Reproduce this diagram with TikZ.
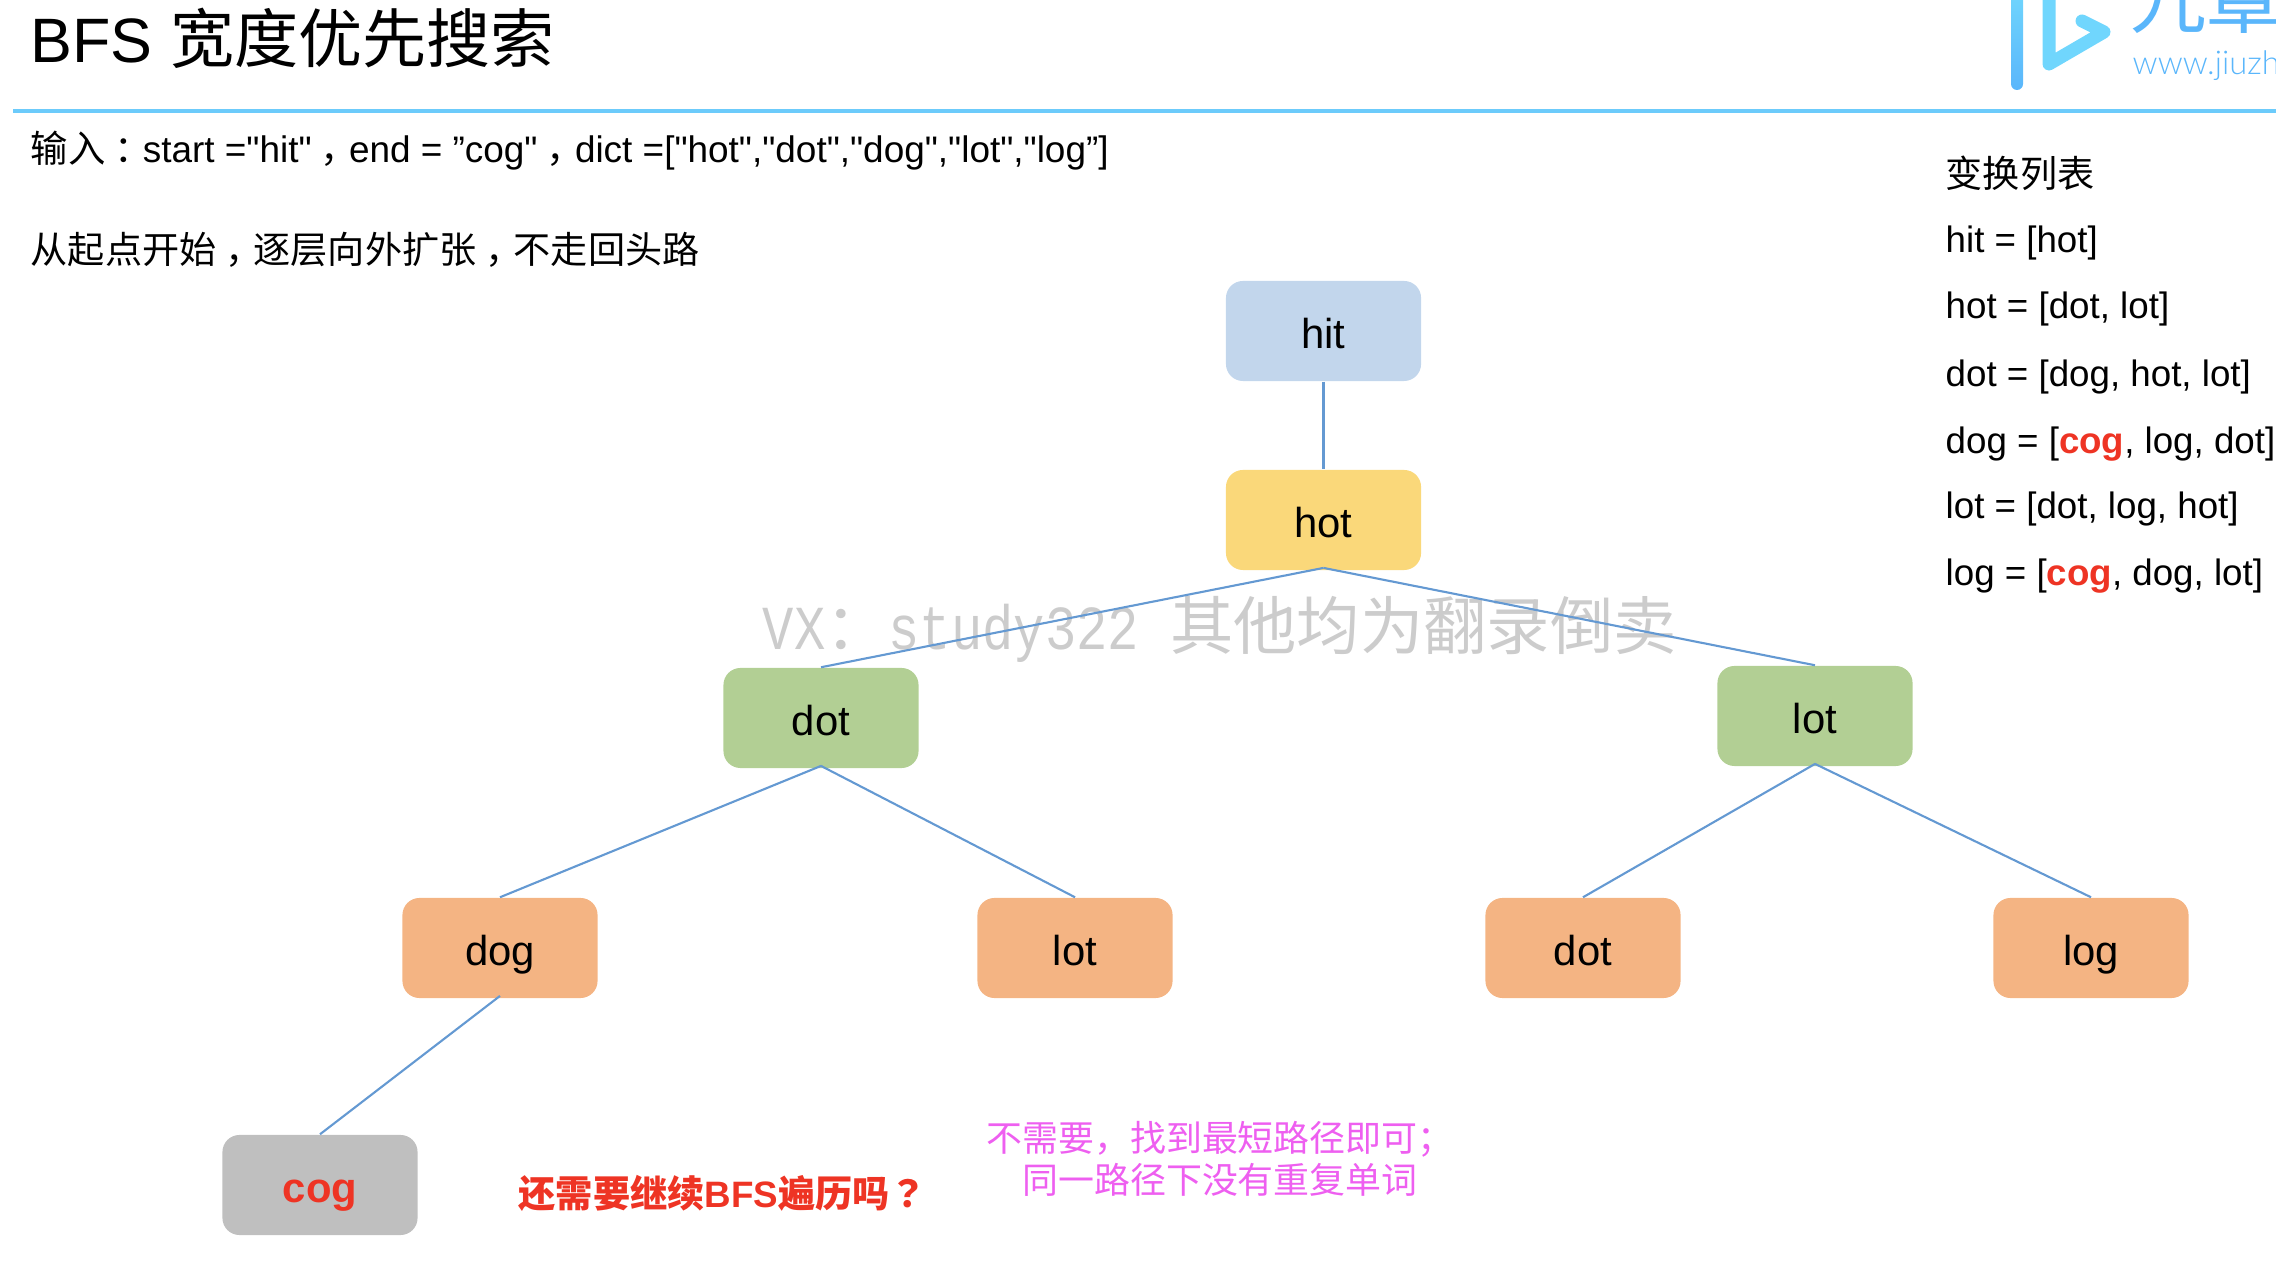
\documentclass[tikz,border=0pt]{standalone}
\usepackage{fontspec}
\setmainfont[Ligatures=TeXOff]{Liberation Sans}
\newfontfamily\cjk[Scale=1.012]{Noto Sans CJK SC}
\newfontfamily\cjkpunct[Scale=1.012]{Noto Sans CJK TC}
\newfontfamily\wmfont[FakeStretch=0.833]{Liberation Mono}
\newfontfamily\urlfont{Lato Light}
\usepackage{xcolor}
\usetikzlibrary{positioning}
\definecolor{hitblue}{HTML}{C2D6EC}
\definecolor{hotyellow}{HTML}{FAD87A}
\definecolor{midgreen}{HTML}{B2CF94}
\definecolor{leaforange}{HTML}{F4B483}
\definecolor{coggray}{HTML}{BFBFBF}
\definecolor{edgeblue}{HTML}{6499D2}
\definecolor{rulecyan}{HTML}{6CCBFB}
\definecolor{logodark}{HTML}{5AB6FB}
\definecolor{logolight}{HTML}{70D6FD}
\definecolor{alertred}{HTML}{EE3424}
\definecolor{notepink}{HTML}{EE5FF0}
\definecolor{stampgray}{HTML}{CCCCCC}
\newcommand{\zh}[1]{{\cjk #1}}
\newcommand{\pu}[1]{\makebox[1.012em][l]{\hspace{.24em}\zh{#1}}}
\newcommand{\hl}[1]{\textcolor{alertred}{\textbf{#1}}}
\tikzset{
  wordbox/.style={rounded corners=1.7mm,minimum width=1.95cm,minimum height=1cm,inner sep=0pt,
                  text height=12pt,text depth=1.8pt,font=\fontsize{11.9}{14}\selectfont},
  hitbox/.style={wordbox,fill=hitblue},
  hotbox/.style={wordbox,fill=hotyellow},
  midbox/.style={wordbox,fill=midgreen},
  leafbox/.style={wordbox,fill=leaforange},
  cogbox/.style={wordbox,fill=coggray,text=alertred,font=\fontsize{11.9}{14}\selectfont\bfseries},
  edge/.style={edgeblue,line width=0.6pt},
  body/.style={anchor=base west,inner sep=0pt,font=\fontsize{10.44}{12}\selectfont},
}
\begin{document}
\begin{tikzpicture}[x=0.01cm,y=-0.01cm]
  \useasboundingbox (0,0) rectangle (2276,1274);
  \node[anchor=base west,inner sep=0pt,font=\fontsize{17.84}{20}\selectfont] (title) at (30,63) {BFS \zh{\fontsize{18}{20}\selectfont 宽度优先搜索}};
  \fill[rulecyan] (13,109) rectangle (2276,113);
  \begin{scope}
    \clip (0,0) rectangle (2276,1274);
    \shade[top color=logolight,bottom color=logodark,rounded corners=.6mm] (2011,-10) rectangle (2023,90);
    \draw[logolight,line width=3.7pt,line cap=round,line join=round] (2049,-10) -- (2049,64) -- (2104,32) -- (2082,21);
    \node[anchor=base west,inner sep=0pt,text=logodark,font=\fontsize{21.3}{24}\selectfont] (logoname) at (2130,28) {\zh{九章}};
    \node[anchor=base west,inner sep=0pt,text=logodark,font=\fontsize{9.3}{11}\selectfont] (logourl) at (2132,75) {\urlfont www.jiuzha};
  \end{scope}
  \node[body,font=\fontsize{10.5}{12}\selectfont] (input) at (30,163) {\zh{输入}\pu{：}start ="hit"\pu{，}end = ”cog"\pu{，}dict =["hot","dot","dog","lot","log”]};
  \node[body] (idea) at (30,264) {\zh{从起点开始}\pu{，}\zh{逐层向外扩张}\pu{，}\zh{不走回头路}};
  \node[body] (listhead) at (1945,188) {\zh{变换列表}};
  \node[body] (rowhit) at (1945,253) {hit = [hot]};
  \node[body] (rowhot) at (1945,319) {hot = [dot, lot]};
  \node[body] (rowdot) at (1945,387) {dot = [dog, hot, lot]};
  \node[body] (rowdog) at (1945,454) {dog = [\hl{cog}, log, dot]};
  \node[body] (rowlot) at (1945,519) {lot = [dot, log, hot]};
  \node[body] (rowlog) at (1945,586) {log = [\hl{cog}, dog, lot]};
  \node[anchor=base west,inner sep=0pt,text=stampgray,font=\fontsize{17.8}{20}\selectfont] (stamp) at (762,650) {\wmfont VX\zh{：}study322 \zh{其他均为翻录倒卖}};
  \node[hitbox] (hit) at (1323.5,331) {hit};
  \node[hotbox] (hot) at (1323.5,520) {hot};
  \node[midbox] (dota) at (821,718) {dot};
  \node[midbox] (lota) at (1815,716) {lot};
  \node[leafbox] (dog) at (500,948) {dog};
  \node[leafbox] (lotb) at (1075,948) {lot};
  \node[leafbox] (dotb) at (1583,948) {dot};
  \node[leafbox] (log) at (2091,948) {log};
  \node[cogbox] (cog) at (320,1185) {cog};
  \draw[edge] (hit.south) -- (hot.north);
  \draw[edge] ([yshift=.8pt]hot.south) -- (dota.north);
  \draw[edge] ([yshift=.8pt]hot.south) -- (lota.north);
  \draw[edge] ([yshift=.8pt]dota.south) -- (dog.north);
  \draw[edge] ([yshift=.8pt]dota.south) -- (lotb.north);
  \draw[edge] ([yshift=.8pt]lota.south) -- (dotb.north);
  \draw[edge] ([yshift=.8pt]lota.south) -- (log.north);
  \draw[edge] ([yshift=.8pt]dog.south) -- (cog.north);
  \node[anchor=base west,inner sep=0pt,text=alertred,font=\fontsize{10.45}{12}\selectfont\bfseries] (askmore) at (518,1207) {\zh{\bfseries 还需要继续}BFS\zh{\bfseries 遍历吗}{\cjkpunct\bfseries ？}};
  \node[align=center,inner sep=0pt,text=notepink,font=\fontsize{10.1}{11.95}\selectfont\cjk] (answer) at (1220,1159) {不需要，找到最短路径即可；\\同一路径下没有重复单词};
\end{tikzpicture}
\end{document}
